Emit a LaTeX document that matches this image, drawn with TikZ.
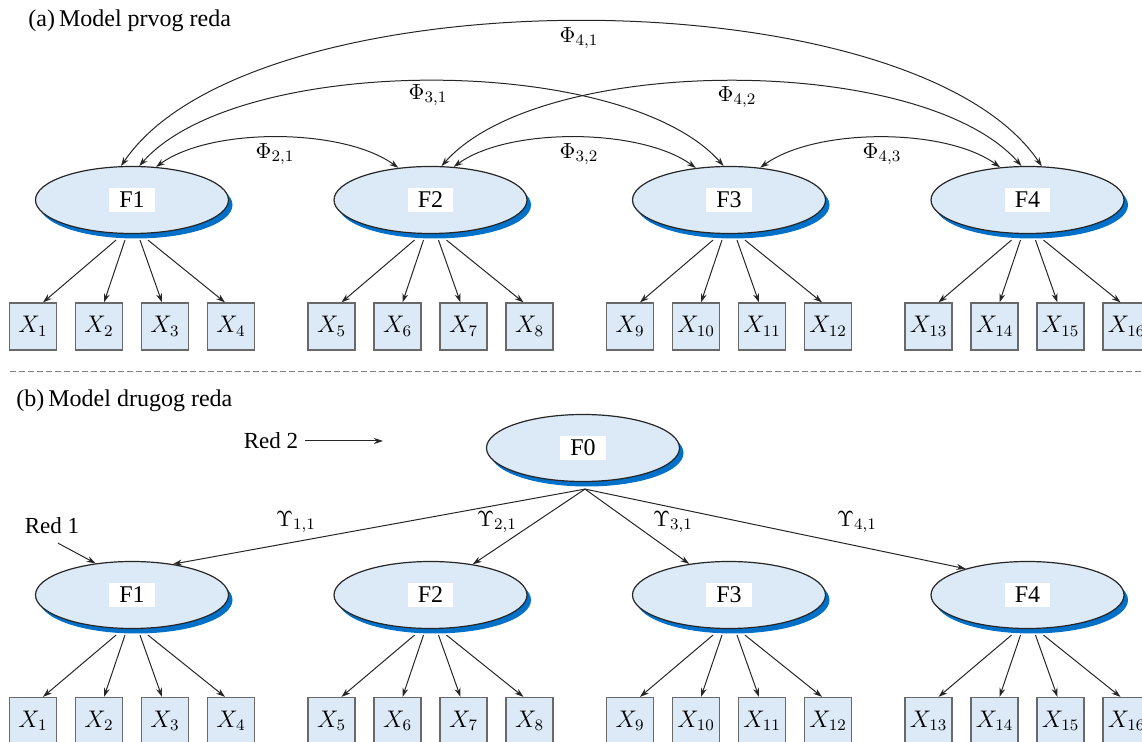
\documentclass[tikz,border=0pt]{standalone}
\usepackage{fontspec}
\setmainfont{Liberation Serif}
\usepackage{tikz}
\usetikzlibrary{arrows.meta,calc,shapes.geometric,shadows}
\usepackage{amsmath}
\definecolor{lightfill}{RGB}{220,233,246}
\definecolor{shadowblue}{RGB}{0,112,200}
\definecolor{boxline}{RGB}{105,105,105}

\begin{document}
\begin{tikzpicture}[x=0.5pt,y=0.5pt,
  >={Stealth[length=4.5pt,width=3pt]},
  every node/.style={font=\fontsize{12}{14}\selectfont},
  factor/.style={ellipse,draw=black!85,line width=0.6pt,fill=lightfill,
    minimum width=96.5pt,minimum height=33.5pt,inner sep=0pt,
    drop shadow={shadow xshift=2pt,shadow yshift=-2.5pt,fill=shadowblue,opacity=1}},
  ftag/.style={fill=white,inner xsep=5pt,inner ysep=2pt},
  indic/.style={draw=boxline,line width=0.6pt,fill=lightfill,minimum size=23.5pt,inner sep=0pt},
  link/.style={line width=0.5pt,black!85},
  coef/.style={font=\fontsize{11}{13}\selectfont},
  note/.style={font=\fontsize{11.5}{13}\selectfont}]
\useasboundingbox (0,0) rectangle (1142,-742);
\clip (0,0) rectangle (1142,-742);

\node[anchor=base west,inner sep=0pt] (ttla) at (28,-27) {(a)\,Model prvog reda};
\node[anchor=base west,inner sep=0pt] (ttlb) at (16,-407) {(b)\,Model drugog reda};
\draw[gray,line width=0.5pt,dash pattern=on 3pt off 1.5pt] (10,-372) -- (1142,-372);

\foreach \i in {1,...,4} {
  \node[factor] (A\i) at ({132+298.5*(\i-1)},-200) {};
  \node[ftag] (tA\i) at (A\i) {F\i};
  \node[factor] (B\i) at ({132+298.5*(\i-1)},-595) {};
  \node[ftag] (tB\i) at (B\i) {F\i};
  \foreach \j/\dx/\s/\e in {1/-99/-8pt/5pt,2/-33/-3.5pt/2.5pt,3/33/4pt/-1.5pt,4/99/8pt/-3pt} {
    \pgfmathtruncatemacro\k{4*(\i-1)+\j}
    \node[indic] (XA\k) at ({132+298.5*(\i-1)+\dx},-326.5) {$X_{\k}$};
    \node[indic] (XB\k) at ({132+298.5*(\i-1)+\dx},-721) {$X_{\k}$};
    \draw[link,->] ([xshift=\s,yshift=-3pt]A\i.south) -- ([xshift=\e]XA\k.north);
    \draw[link,->] ([xshift=\s,yshift=-3pt]B\i.south) -- ([xshift=\e]XB\k.north);
  }
}

\draw[link,<->] (A1.54) .. controls +(55,40) and +(-55,40) .. (A2.135);
\draw[link,<->] (A2.55) .. controls +(55,40) and +(-55,40) .. (A3.136);
\draw[link,<->] (A3.46) .. controls +(55,40) and +(-55,40) .. (A4.130);
\draw[link,<->] (A1.78) .. controls +(100,113) and +(-100,113) .. (A3.99);
\draw[link,<->] (A2.72) .. controls +(100,113) and +(-100,113) .. (A4.100);
\draw[link,<->] (A1.108) .. controls +(130,193) and +(-130,193) .. (A4.67);
\node[coef] (p21) at (275,-154) {$\Phi_{2,1}$};
\node[coef] (p32) at (579,-154) {$\Phi_{3,2}$};
\node[coef] (p43) at (882,-154) {$\Phi_{4,3}$};
\node[coef] (p31) at (428,-95) {$\Phi_{3,1}$};
\node[coef] (p42) at (737,-97) {$\Phi_{4,2}$};
\node[coef] (p41) at (579,-38) {$\Phi_{4,1}$};

\node[factor] (F0) at (583,-448) {};
\node[ftag] (tF0) at (F0) {F0};
\coordinate (f0foot) at ($(F0.south)+(2,-7)$);
\draw[link,->] (f0foot) -- (B1.37);
\draw[link,->] (f0foot) -- (B2.36);
\draw[link,->] (f0foot) -- (B3.142);
\draw[link,->] (f0foot) -- (B4.157);
\node[coef] (y11) at (296,-522) {$\Upsilon_{1,1}$};
\node[coef] (y21) at (497,-522) {$\Upsilon_{2,1}$};
\node[coef] (y31) at (673,-522) {$\Upsilon_{3,1}$};
\node[coef] (y41) at (857,-522) {$\Upsilon_{4,1}$};

\node[note] (red2) at (271,-441) {Red 2};
\coordinate (red2end) at (383,-441);
\draw[link,->] (red2.east) -- (red2end);
\node[note] (red1) at (52,-526) {Red 1};
\draw[link,->] ([xshift=3pt,yshift=-1pt]red1.south) -- (B1.139);
\end{tikzpicture}
\end{document}
